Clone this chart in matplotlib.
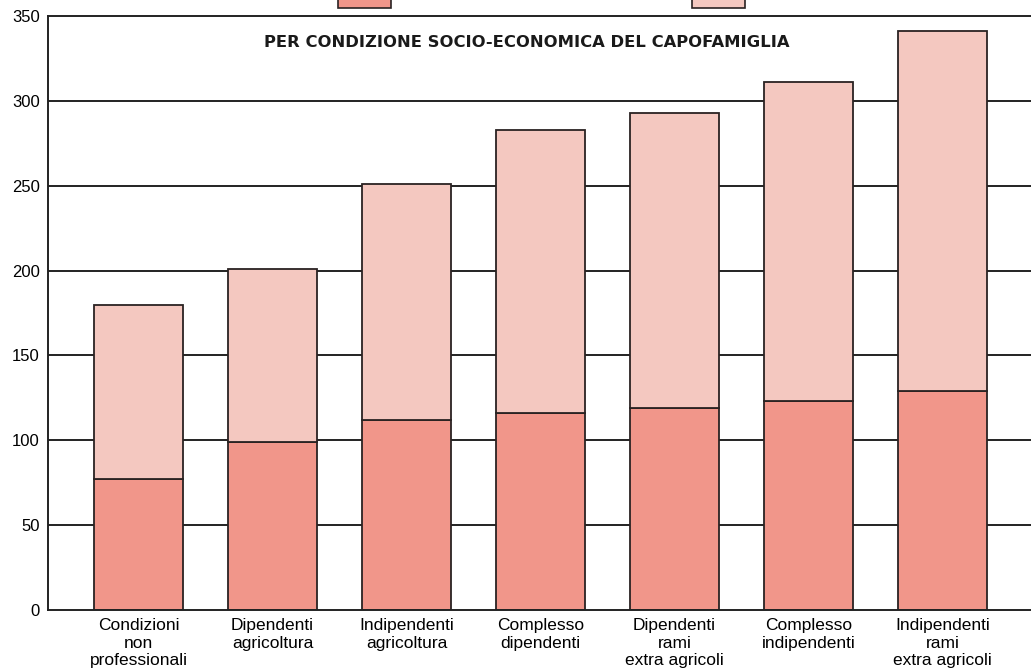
import matplotlib.pyplot as plt
from matplotlib.patches import Patch
import numpy as np

plt.rcParams['font.family'] = ['Liberation Sans', 'DejaVu Sans']

categorie = [
    'Condizioni\nnon\nprofessionali',
    'Dipendenti\nagricoltura',
    'Indipendenti\nagricoltura',
    'Complesso\ndipendenti',
    'Dipendenti\nrami\nextra agricoli',
    'Complesso\nindipendenti',
    'Indipendenti\nrami\nextra agricoli',
]
# parte inferiore (scura) e altezza totale di ogni colonna
base = [77, 99, 112, 116, 119, 123, 129]
totale = [180, 201, 251, 283, 293, 311, 341]

col_base = '#f1968a'
col_sopra = '#f4c8c0'
bordo = '#2a2222'

x = np.arange(len(categorie))
sopra = np.array(totale) - np.array(base)

fig = plt.figure(figsize=(10.31, 6.71), dpi=100)
ax = fig.add_axes([48 / 1031, 1 - 610 / 671, 1 - 48 / 1031, (610 - 16) / 671])

for yv in range(50, 350, 50):
    ax.axhline(yv, color='#222222', lw=1.4, zorder=0)

ax.bar(x, base, width=0.67, color=col_base, edgecolor=bordo, lw=1.3, zorder=2)
ax.bar(x, sopra, bottom=base, width=0.67, color=col_sopra, edgecolor=bordo,
       lw=1.3, zorder=2)

ax.set_xlim(-0.675, 6.66)
ax.set_ylim(0, 350)
ax.set_yticks(range(0, 351, 50))
ax.set_xticks(x)
ax.set_xticklabels(categorie, fontsize=12.5, linespacing=1.2)
ax.tick_params(axis='y', length=0, labelsize=12, pad=6)
ax.tick_params(axis='x', length=0, pad=6)

for s in ['left', 'bottom', 'top']:
    ax.spines[s].set_color('#222222')
    ax.spines[s].set_linewidth(1.4)
ax.spines['right'].set_visible(False)

ax.text(0.487, 0.955, 'PER CONDIZIONE SOCIO-ECONOMICA DEL CAPOFAMIGLIA',
        transform=ax.transAxes, ha='center', va='center', fontsize=11.8,
        fontweight='bold', family='DejaVu Sans', color='#1a1a1a')

maniglie = [Patch(facecolor=col_base, edgecolor=bordo, lw=1.2),
            Patch(facecolor=col_sopra, edgecolor=bordo, lw=1.2)]
fig.legend(maniglie, ['', ''], loc='lower left',
           bbox_to_anchor=(338 / 1031, 1 - 8 / 671), ncol=2, frameon=False,
           handlelength=3.6, handleheight=1.2, handletextpad=0,
           columnspacing=20.7, borderpad=0, borderaxespad=0, fontsize=10.5)

fig.savefig('out.png', dpi=100)
